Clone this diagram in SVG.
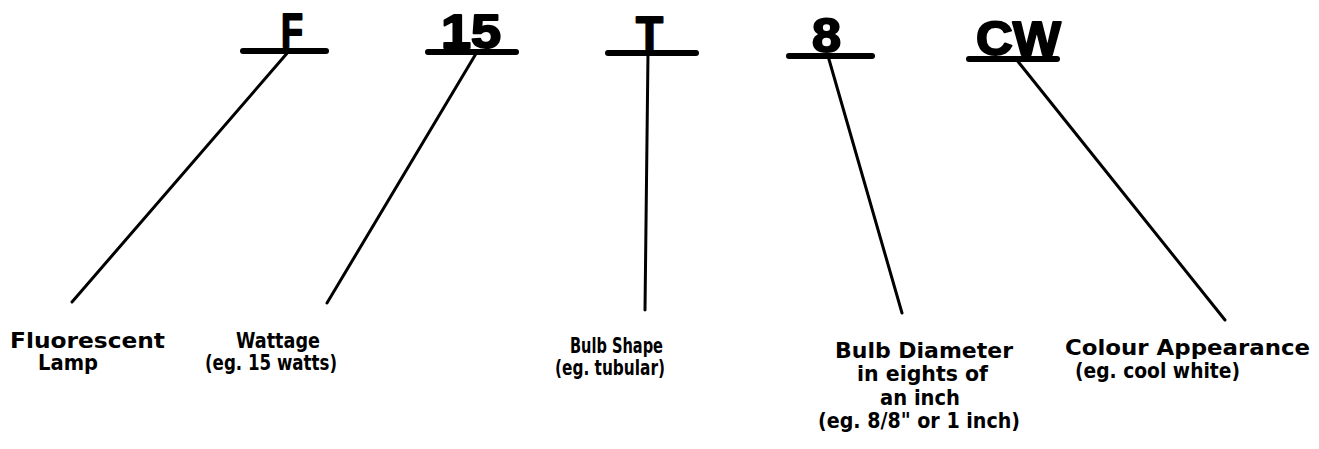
<svg xmlns="http://www.w3.org/2000/svg" width="1319" height="449" viewBox="0 0 1319 449">
<style>
.big{font-family:"Liberation Sans",Arial,sans-serif;font-weight:bold;font-size:48px;fill:#000;stroke:#000;stroke-width:2;stroke-linejoin:round}
.lbl{font-family:"DejaVu Sans","Liberation Sans",sans-serif;font-weight:bold;font-size:21px;fill:#000}
.ul{stroke:#000;stroke-width:6;stroke-linecap:round}
.con{stroke:#000;stroke-width:3;stroke-linecap:round;fill:none}
</style>
<rect width="1319" height="449" fill="#fff"/>
<g id="code-F">
<text class="big" x="281" y="47" textLength="22" lengthAdjust="spacingAndGlyphs">F</text>
<line class="ul" x1="243" y1="51" x2="326" y2="51"/>
</g>
<g id="code-15">
<text class="big" x="441" y="48" textLength="60" lengthAdjust="spacingAndGlyphs">15</text>
<line class="ul" x1="428" y1="52" x2="516" y2="52"/>
</g>
<g id="code-T">
<text class="big" x="636" y="50" textLength="27" lengthAdjust="spacingAndGlyphs">T</text>
<line class="ul" x1="608" y1="53" x2="696" y2="53"/>
</g>
<g id="code-8">
<text class="big" x="812" y="52" textLength="29" lengthAdjust="spacingAndGlyphs">8</text>
<line class="ul" x1="789" y1="56" x2="872" y2="56"/>
</g>
<g id="code-CW">
<text class="big" x="976" y="55" textLength="85" lengthAdjust="spacingAndGlyphs">CW</text>
<line class="ul" x1="969" y1="59" x2="1057" y2="59"/>
</g>
<g id="connectors">
<line class="con" x1="289" y1="51" x2="72" y2="302"/>
<line class="con" x1="477" y1="52" x2="327" y2="303"/>
<line class="con" x1="648" y1="53" x2="645" y2="310"/>
<line class="con" x1="828" y1="56" x2="902" y2="313"/>
<line class="con" x1="1016" y1="59" x2="1225" y2="320"/>
</g>
<g id="label-F">
<text class="lbl" x="10" y="348" textLength="155" lengthAdjust="spacingAndGlyphs">Fluorescent</text>
<text class="lbl" x="38" y="370" textLength="60" lengthAdjust="spacingAndGlyphs">Lamp</text>
</g>
<g id="label-15">
<text class="lbl" x="236" y="348" textLength="84" lengthAdjust="spacingAndGlyphs">Wattage</text>
<text class="lbl" x="205" y="370" textLength="132" lengthAdjust="spacingAndGlyphs">(eg. 15 watts)</text>
</g>
<g id="label-T">
<text class="lbl" x="570" y="353" textLength="93" lengthAdjust="spacingAndGlyphs">Bulb Shape</text>
<text class="lbl" x="555" y="375" textLength="110" lengthAdjust="spacingAndGlyphs">(eg. tubular)</text>
</g>
<g id="label-8">
<text class="lbl" x="835" y="358" textLength="178" lengthAdjust="spacingAndGlyphs">Bulb Diameter</text>
<text class="lbl" x="857" y="381" textLength="131" lengthAdjust="spacingAndGlyphs">in eights of</text>
<text class="lbl" x="880" y="405" textLength="80" lengthAdjust="spacingAndGlyphs">an inch</text>
<text class="lbl" x="818" y="428" textLength="202" lengthAdjust="spacingAndGlyphs">(eg. 8/8" or 1 inch)</text>
</g>
<g id="label-CW">
<text class="lbl" x="1065" y="355" textLength="245" lengthAdjust="spacingAndGlyphs">Colour Appearance</text>
<text class="lbl" x="1075" y="378" textLength="165" lengthAdjust="spacingAndGlyphs">(eg. cool white)</text>
</g>
</svg>
